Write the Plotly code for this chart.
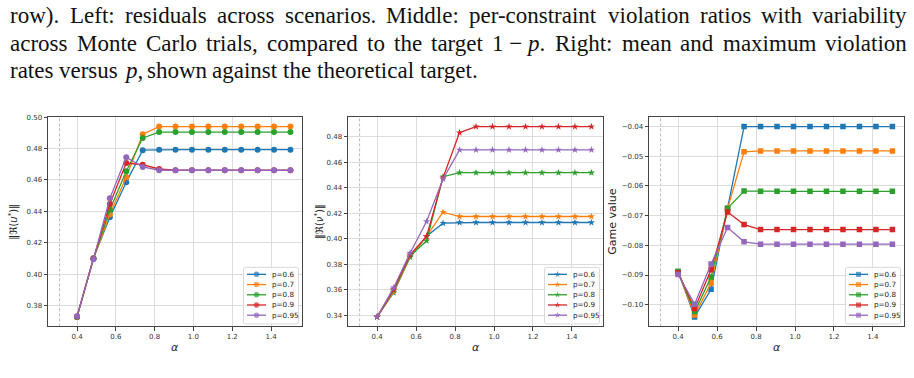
import plotly.graph_objects as go

# ---------------- data ----------------
ALPHA = [0.4, 0.4846, 0.5692, 0.6538, 0.7385, 0.8231, 0.9077, 0.9923,
         1.0769, 1.1615, 1.2462, 1.3308, 1.4154, 1.5]
P_LABELS = ["p=0.6", "p=0.7", "p=0.8", "p=0.9", "p=0.95"]
COLORS = ["#1f77b4", "#ff7f0e", "#2ca02c", "#d62728", "#9467bd"]
VLINE_ALPHA = 0.31

U_06 = [0.3728, 0.4102, 0.4363, 0.4585, 0.4790, 0.4793, 0.4793, 0.4793, 0.4793, 0.4793, 0.4793, 0.4793, 0.4793, 0.4793]
U_07 = [0.3728, 0.4100, 0.4382, 0.4618, 0.4892, 0.4940, 0.4940, 0.4940, 0.4940, 0.4940, 0.4940, 0.4940, 0.4940, 0.4940]
U_08 = [0.3728, 0.4100, 0.4410, 0.4656, 0.4868, 0.4905, 0.4905, 0.4905, 0.4905, 0.4905, 0.4905, 0.4905, 0.4905, 0.4905]
U_09 = [0.3730, 0.4098, 0.4447, 0.4708, 0.4697, 0.4670, 0.4662, 0.4662, 0.4662, 0.4662, 0.4662, 0.4662, 0.4662, 0.4662]
U_095 = [0.3732, 0.4095, 0.4483, 0.4745, 0.4683, 0.4662, 0.4662, 0.4662, 0.4662, 0.4662, 0.4662, 0.4662, 0.4662, 0.4662]

V_06 = [0.3388, 0.3577, 0.3855, 0.4020, 0.4122, 0.4127, 0.4127, 0.4127, 0.4127, 0.4127, 0.4127, 0.4127, 0.4127, 0.4127]
V_07 = [0.3388, 0.3584, 0.3860, 0.4018, 0.4208, 0.4174, 0.4174, 0.4174, 0.4174, 0.4174, 0.4174, 0.4174, 0.4174, 0.4174]
V_08 = [0.3388, 0.3595, 0.3865, 0.3984, 0.4486, 0.4517, 0.4517, 0.4517, 0.4517, 0.4517, 0.4517, 0.4517, 0.4517, 0.4517]
V_09 = [0.3388, 0.3603, 0.3875, 0.4018, 0.4478, 0.4831, 0.4878, 0.4878, 0.4878, 0.4878, 0.4878, 0.4878, 0.4878, 0.4878]
V_095 = [0.3388, 0.3616, 0.3888, 0.4135, 0.4468, 0.4696, 0.4696, 0.4696, 0.4696, 0.4696, 0.4696, 0.4696, 0.4696, 0.4696]

G_06 = [-0.0888, -0.1041, -0.0948, -0.0676, -0.0400, -0.0400, -0.0400, -0.0400, -0.0400, -0.0400, -0.0400, -0.0400, -0.0400, -0.0400]
G_07 = [-0.0889, -0.1035, -0.0927, -0.0676, -0.0485, -0.0482, -0.0482, -0.0482, -0.0482, -0.0482, -0.0482, -0.0482, -0.0482, -0.0482]
G_08 = [-0.0888, -0.1024, -0.0907, -0.0675, -0.0617, -0.0618, -0.0618, -0.0618, -0.0618, -0.0618, -0.0618, -0.0618, -0.0618, -0.0618]
G_09 = [-0.0892, -0.1013, -0.0882, -0.0688, -0.0730, -0.0747, -0.0747, -0.0747, -0.0747, -0.0747, -0.0747, -0.0747, -0.0747, -0.0747]
G_095 = [-0.0898, -0.0998, -0.0863, -0.0740, -0.0788, -0.0796, -0.0796, -0.0796, -0.0796, -0.0796, -0.0796, -0.0796, -0.0796, -0.0796]

Y_TITLES = ["‖ℜ(<i>u</i><sup>*</sup>)‖", "‖ℜ(<i>ν</i><sup>*</sup>)‖", "Game value"]
X_TITLE = "<i>α</i>"

TEXT_LINES = [
    ["row).", "Left:", "residuals", "across", "scenarios.", "Middle:", "per-constraint",
     "violation", "ratios", "with", "variability"],
    ["across", "Monte", "Carlo", "trials,", "compared", "to", "the", "target", "1 − <i>p</i>.",
     "Right:", "mean", "and", "maximum", "violation"],
    ["rates", "versus", "<i>p</i>,", "shown", "against", "the", "theoretical", "target."],
]

# ---------------- layout constants (pixels) ----------------
W, H = 914, 378
PANEL_X = [(48, 302), (348, 603), (649, 904)]
PANEL_TOP, PANEL_BOT = 115, 326
YTITLE_X = [14, 319.5, 613]
YTITLE_SIZE = [10, 10, 11]
MARKERS = ["circle", "star", "square"]
MSIZE = [6, 5.5, 5.5]

SERIES = [[U_06, U_07, U_08, U_09, U_095],
          [V_06, V_07, V_08, V_09, V_095],
          [G_06, G_07, G_08, G_09, G_095]]
YDTICK = [0.02, 0.02, 0.01]

TICKFONT = dict(family="DejaVu Sans", size=7, color="#333")

fig = go.Figure()

for i in range(3):
    xa = "x" if i == 0 else f"x{i+1}"
    ya = "y" if i == 0 else f"y{i+1}"
    for k in range(5):
        fig.add_trace(go.Scatter(
            x=ALPHA, y=SERIES[i][k], mode="lines+markers", name=P_LABELS[k],
            line=dict(color=COLORS[k], width=1.3),
            marker=dict(symbol=MARKERS[i], size=MSIZE[i], color=COLORS[k], line=dict(width=0)),
            xaxis=xa, yaxis=ya, showlegend=False))

layout = dict(width=W, height=H, margin=dict(l=0, r=0, t=0, b=0),
              paper_bgcolor="white", plot_bgcolor="rgba(0,0,0,0)", showlegend=False)

xlo = min(VLINE_ALPHA, min(ALPHA)); xhi = max(ALPHA)
xr = [xlo - 0.05 * (xhi - xlo), xhi + 0.05 * (xhi - xlo)]

for i in range(3):
    sfx = "" if i == 0 else str(i + 1)
    allv = [v for s in SERIES[i] for v in s]
    lo, hi = min(allv), max(allv)
    yr = [lo - 0.05 * (hi - lo), hi + 0.05 * (hi - lo)]
    x0, x1 = PANEL_X[i]
    common = dict(showline=True, linecolor="#444", linewidth=1, mirror=True,
                  showgrid=True, gridcolor="#dcdcdc", gridwidth=1, zeroline=False,
                  ticks="outside", ticklen=3.5, tickwidth=0.8, tickcolor="#444",
                  tickfont=TICKFONT, fixedrange=True)
    layout["xaxis" + sfx] = dict(domain=[x0 / W, x1 / W], range=xr, anchor="y" + sfx,
                                 tick0=0, dtick=0.2, tickformat=".1f", **common)
    layout["yaxis" + sfx] = dict(domain=[1 - PANEL_BOT / H, 1 - PANEL_TOP / H], range=yr,
                                 anchor="x" + sfx, tick0=0, dtick=YDTICK[i], tickformat=".2f",
                                 **common)

# overlay pixel-coordinate axes for the text and the legends
layout["xaxis4"] = dict(domain=[0, 1], range=[0, W], anchor="y4", visible=False, fixedrange=True)
layout["yaxis4"] = dict(domain=[0, 1], range=[H, 0], anchor="x4", visible=False, fixedrange=True)
fig.update_layout(**layout)

shapes = []
annotations = []

for i in range(3):
    xa = "x" if i == 0 else f"x{i+1}"
    ya = "y" if i == 0 else f"y{i+1}"
    shapes.append(dict(type="line", xref=xa, yref=ya + " domain", x0=VLINE_ALPHA, x1=VLINE_ALPHA,
                       y0=0, y1=1, line=dict(color="#a8a8a8", width=0.8, dash="3px,2px"),
                       layer="below"))
    x0, x1 = PANEL_X[i]
    # axis titles
    annotations.append(dict(x=(x0 + x1) / 2, y=347, xref="x4", yref="y4", text=X_TITLE,
                            showarrow=False, font=dict(family="DejaVu Sans", size=11, color="#222"),
                            xanchor="center", yanchor="middle"))
    annotations.append(dict(x=YTITLE_X[i], y=(PANEL_TOP + PANEL_BOT) / 2, xref="x4", yref="y4",
                            text=Y_TITLES[i], textangle=-90, showarrow=False,
                            font=dict(family="DejaVu Sans", size=YTITLE_SIZE[i], color="#222"),
                            xanchor="center", yanchor="middle"))
    # legend box
    bx1 = x1 - 3.5; bx0 = bx1 - 55; by1 = PANEL_BOT - 2.5; by0 = by1 - 57; r = 2
    path = (f"M{bx0+r},{by0} L{bx1-r},{by0} Q{bx1},{by0} {bx1},{by0+r} L{bx1},{by1-r} "
            f"Q{bx1},{by1} {bx1-r},{by1} L{bx0+r},{by1} Q{bx0},{by1} {bx0},{by1-r} "
            f"L{bx0},{by0+r} Q{bx0},{by0} {bx0+r},{by0} Z")
    shapes.append(dict(type="path", path=path, xref="x4", yref="y4", layer="below",
                       fillcolor="rgba(255,255,255,0.85)", line=dict(color="#cfcfcf", width=0.8)))
    for k in range(5):
        ry = by0 + 7 + k * 10.3
        fig.add_trace(go.Scatter(
            x=[bx0 + 3.5, bx0 + 13, bx0 + 22.5], y=[ry, ry, ry], mode="lines+markers",
            line=dict(color=COLORS[k], width=1.3),
            marker=dict(symbol=MARKERS[i], size=[0, MSIZE[i] - 0.5, 0], color=COLORS[k],
                        line=dict(width=0)),
            xaxis="x4", yaxis="y4", showlegend=False, hoverinfo="skip"))
        annotations.append(dict(x=bx0 + 26, y=ry, xref="x4", yref="y4", text=P_LABELS[k],
                                showarrow=False, xanchor="left", yanchor="middle",
                                font=dict(family="DejaVu Sans", size=7.2, color="#222")))

# ---------------- paragraph text (justified) ----------------
TW = {' ': 250, '!': 333, '(': 333, ')': 333, ',': 250, '-': 333, '.': 250, ':': 278, '1': 500,
      'a': 444, 'b': 500, 'c': 444, 'd': 500, 'e': 444, 'f': 333, 'g': 500, 'h': 500, 'i': 278,
      'j': 278, 'k': 500, 'l': 278, 'm': 778, 'n': 500, 'o': 500, 'p': 500, 'q': 500, 'r': 333,
      's': 389, 't': 278, 'u': 500, 'v': 500, 'w': 722, 'x': 500, 'y': 500, 'z': 444,
      'C': 667, 'L': 611, 'M': 889, 'R': 667, '−': 564}
FS = 23
TEXT_Y = [13, 41, 68]
LEFT, RIGHT = 8, 905


def plain(s):
    return s.replace("<i>", "").replace("</i>", "")


def wwidth(s):
    return sum(TW.get(c, 500) for c in plain(s)) / 1000 * FS


for li, words in enumerate(TEXT_LINES):
    widths = [wwidth(w) for w in words]
    if li < len(TEXT_LINES) - 1:
        gap = (RIGHT - LEFT - sum(widths)) / (len(words) - 1)
    else:
        gap = 0.25 * FS
    x = LEFT
    for w, wd in zip(words, widths):
        annotations.append(dict(x=x, y=TEXT_Y[li], xref="x4", yref="y4", text=w, showarrow=False,
                                xanchor="left", yanchor="middle",
                                font=dict(family="Liberation Serif", size=FS, color="#111")))
        x += wd + gap

fig.update_layout(shapes=shapes, annotations=annotations)
fig.write_html("out.html")
